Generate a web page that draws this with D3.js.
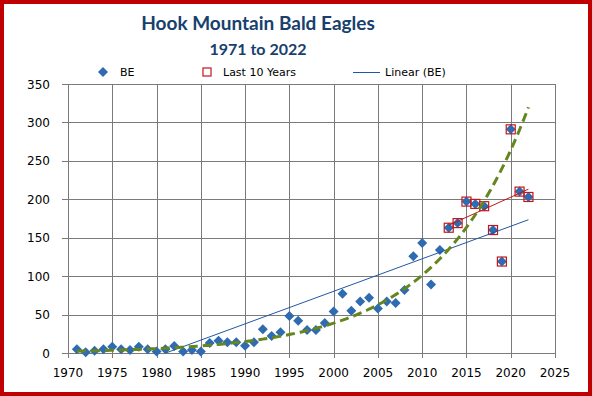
<!DOCTYPE html>
<html lang="en">
<head>
  <meta charset="UTF-8">
  <title>Hook Mountain Bald Eagles</title>
  <script src="https://cdn.jsdelivr.net/npm/d3@7"></script>
  <style>
    body { margin: 0; padding: 0; background: #fff; }
    svg { display: block; }
    .tick-label { font-family: "DejaVu Sans", sans-serif; font-size: 12px; fill: #000; }
    .legend-text { font-family: "DejaVu Sans", sans-serif; font-size: 11px; fill: #000; }
    .title { font-family: Lato, "Open Sans", sans-serif; font-weight: bold; fill: #17406d; }
  </style>
</head>
<body>
<div id="chart"></div>
<script>
  // yearly counts
  const years = d3.range(1971, 2023);
  const beCounts = [
    5, 1, 3, 5, 8, 5, 4, 8, 5, 2,          // 1971-1980
    5, 9, 2, 4, 2, 13, 16, 14, 14, 9.5,    // 1981-1990
    14, 31, 22, 27, 48, 42, 30, 30, 39, 54,// 1991-2000
    77, 55, 67, 72, 58, 67, 65, 82, 126, 143, // 2001-2010
    89, 134, 163, 169, 197, 194, 191, 160, 119, 291, // 2011-2020
    210, 203                               // 2021-2022
  ];
  const lastTenYears = years.slice(-10);
  const lastTenCounts = beCounts.slice(-10);

  const xTicks = d3.range(1970, 2026, 5);
  const yTicks = d3.range(0, 351, 50);

  const width = 592, height = 396;
  const margin = { left: 68, right: 37, top: 84, bottom: 43 };

  const svg = d3.select("#chart").append("svg")
    .attr("width", width)
    .attr("height", height);

  const x = d3.scaleLinear().domain([1970, 2025]).range([margin.left, width - margin.right]);
  const y = d3.scaleLinear().domain([0, 350]).range([height - margin.bottom, margin.top]);

  // grid
  const grid = svg.append("g").attr("stroke", "#7a7a7a").attr("stroke-width", 1);
  xTicks.forEach(t => {
    grid.append("line")
      .attr("x1", Math.round(x(t)) + 0.5).attr("x2", Math.round(x(t)) + 0.5)
      .attr("y1", y(350)).attr("y2", y(0) + 5);
  });
  yTicks.forEach(t => {
    grid.append("line")
      .attr("x1", x(1970) - 6).attr("x2", x(2025))
      .attr("y1", Math.round(y(t)) + 0.5).attr("y2", Math.round(y(t)) + 0.5);
  });

  // tick labels
  svg.append("g").selectAll("text").data(xTicks).enter().append("text")
    .attr("class", "tick-label")
    .attr("x", d => x(d))
    .attr("y", y(0) + 24)
    .attr("text-anchor", "middle")
    .text(d => d);
  svg.append("g").selectAll("text").data(yTicks).enter().append("text")
    .attr("class", "tick-label")
    .attr("x", x(1970) - 18)
    .attr("y", d => y(d) + 4.5)
    .attr("text-anchor", "end")
    .text(d => d);

  svg.append("clipPath").attr("id", "plotClip")
    .append("rect")
    .attr("x", x(1970)).attr("y", y(350))
    .attr("width", x(2025) - x(1970)).attr("height", y(0) - y(350));

  const points = years.map((yr, i) => ({ year: yr, v: beCounts[i] }));
  const lastPoints = lastTenYears.map((yr, i) => ({ year: yr, v: lastTenCounts[i] }));

  const blue = "#2f6bb0";
  const diamond = d3.symbol(d3.symbolSquare, 50);

  // BE markers
  svg.append("g").selectAll("path").data(points).enter().append("path")
    .attr("d", diamond)
    .attr("fill", blue)
    .attr("transform", d => `translate(${x(d.year)},${y(d.v)}) rotate(45)`);

  // last 10 years markers
  svg.append("g").selectAll("rect").data(lastPoints).enter().append("rect")
    .attr("x", d => x(d.year) - 4.5)
    .attr("y", d => y(d.v) - 4.5)
    .attr("width", 9).attr("height", 9)
    .attr("fill", "none")
    .attr("stroke", "#c0171c")
    .attr("stroke-width", 1.2);

  // least squares fits
  function linFit(xs, ys) {
    const mx = d3.mean(xs), my = d3.mean(ys);
    let sxy = 0, sxx = 0;
    xs.forEach((v, i) => { sxy += (v - mx) * (ys[i] - my); sxx += (v - mx) * (v - mx); });
    const b = sxy / sxx;
    return { a: my - b * mx, b: b };
  }

  const trends = svg.append("g").attr("clip-path", "url(#plotClip)");

  // Linear (BE)
  const lin = linFit(years, beCounts);
  trends.append("line")
    .attr("x1", x(1971)).attr("y1", y(lin.a + lin.b * 1971))
    .attr("x2", x(2022)).attr("y2", y(lin.a + lin.b * 2022))
    .attr("stroke", "#1f58a0").attr("stroke-width", 1);

  // Linear (last 10 years)
  const lin10 = linFit(lastTenYears, lastTenCounts);
  trends.append("line")
    .attr("x1", x(2013)).attr("y1", y(lin10.a + lin10.b * 2013))
    .attr("x2", x(2022)).attr("y2", y(lin10.a + lin10.b * 2022))
    .attr("stroke", "#c0171c").attr("stroke-width", 1);

  // exponential fit (log-linear)
  const expFit = linFit(years, beCounts.map(v => Math.log(v)));
  const expLine = d3.line()
    .x(d => x(d))
    .y(d => y(Math.exp(expFit.a + expFit.b * d)));
  trends.append("path")
    .datum(d3.range(1971, 2022.01, 0.25))
    .attr("d", expLine)
    .attr("fill", "none")
    .attr("stroke", "#64861c")
    .attr("stroke-width", 3)
    .attr("stroke-dasharray", "9,5");

  // titles
  svg.append("text").attr("class", "title")
    .attr("x", 258).attr("y", 30)
    .attr("text-anchor", "middle")
    .style("font-size", "19px")
    .text("Hook Mountain Bald Eagles");
  svg.append("text").attr("class", "title")
    .attr("x", 258).attr("y", 55)
    .attr("text-anchor", "middle")
    .style("font-size", "16px")
    .text("1971 to 2022");

  // legend
  const lg = svg.append("g");
  lg.append("path").attr("d", diamond).attr("fill", blue)
    .attr("transform", "translate(103,72) rotate(45)");
  lg.append("text").attr("class", "legend-text").attr("x", 120).attr("y", 76).text("BE");
  lg.append("rect").attr("x", 203).attr("y", 68).attr("width", 8).attr("height", 8)
    .attr("fill", "none").attr("stroke", "#c0171c").attr("stroke-width", 1.2);
  lg.append("text").attr("class", "legend-text").attr("x", 223).attr("y", 76).text("Last 10 Years");
  lg.append("line").attr("x1", 353).attr("x2", 380).attr("y1", 72.5).attr("y2", 72.5)
    .attr("stroke", "#1f58a0").attr("stroke-width", 1);
  lg.append("text").attr("class", "legend-text").attr("x", 385).attr("y", 76).text("Linear (BE)");

  // red frame
  svg.append("rect")
    .attr("x", 2).attr("y", 2)
    .attr("width", width - 4).attr("height", height - 4)
    .attr("fill", "none")
    .attr("stroke", "#c00000")
    .attr("stroke-width", 4);
</script>
</body>
</html>
